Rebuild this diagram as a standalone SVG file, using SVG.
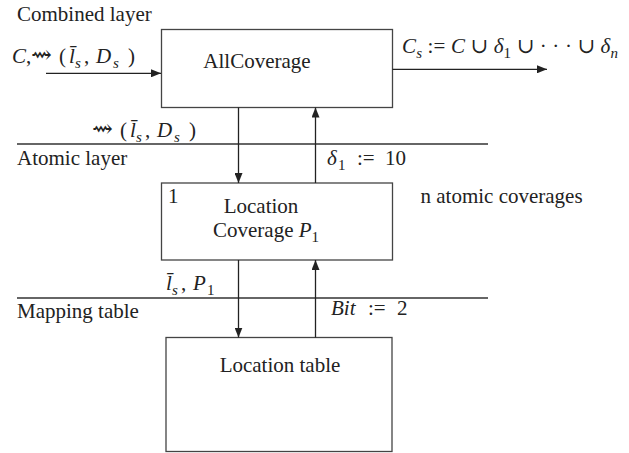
<svg xmlns="http://www.w3.org/2000/svg" width="629" height="453" viewBox="0 0 629 453" font-family="'Liberation Serif', 'Times New Roman', Times, 'DejaVu Serif', serif">
<defs>
<marker id="ah" viewBox="0 0 10 8" refX="10" refY="4" markerWidth="10" markerHeight="8" markerUnits="userSpaceOnUse" orient="auto">
<path d="M0,0 L10,4 L0,8 z" fill="#222"/>
</marker>
<style>
text{font-family:'Liberation Serif','Times New Roman',Times,'DejaVu Serif',serif;font-size:21px;fill:#222}
.m{font-style:italic}
.sub{font-size:15px}
.sq{font-size:25px}
.box{fill:#fff;stroke:#444;stroke-width:1.3}
.sep{stroke:#333;stroke-width:1.3}
.arr{stroke:#222;stroke-width:1.3;fill:none;marker-end:url(#ah)}
</style>
</defs>
<rect width="629" height="453" fill="#fff"/>
<g id="layers">
<line class="sep" x1="17" y1="144" x2="488" y2="144"/>
<line class="sep" x1="17" y1="298" x2="488" y2="298"/>
<text x="17" y="20.5">Combined layer</text>
<text x="17" y="165">Atomic layer</text>
<text x="17" y="318">Mapping table</text>
<text x="420.5" y="202.5">n atomic coverages</text>
</g>
<g id="allcoverage">
<rect class="box" x="161.5" y="29.5" width="231" height="78"/>
<text x="257" y="68" text-anchor="middle">AllCoverage</text>
</g>
<g id="locationcoverage">
<rect class="box" x="161.5" y="183" width="231" height="77"/>
<text x="168" y="202.5">1</text>
<text x="261" y="212.5" text-anchor="middle">Location</text>
<text x="213" y="237">Coverage <tspan class="m">P</tspan><tspan class="sub" dy="5">1</tspan></text>
</g>
<g id="locationtable">
<rect class="box" x="166" y="337.5" width="226" height="114"/>
<text x="280" y="371.5" text-anchor="middle">Location table</text>
</g>
<g id="connectors">
<line class="arr" x1="46" y1="73.3" x2="161" y2="73.3"/>
<line class="arr" x1="392.5" y1="69.3" x2="547" y2="69.3"/>
<line class="arr" x1="238.5" y1="107.5" x2="238.5" y2="183"/>
<line class="arr" x1="315.5" y1="183" x2="315.5" y2="107.5"/>
<line class="arr" x1="238.5" y1="260" x2="238.5" y2="337.5"/>
<line class="arr" x1="315.5" y1="337.5" x2="315.5" y2="260"/>
</g>
<g id="labels">
<text x="12" y="63"><tspan class="m">C</tspan><tspan x="26">,</tspan><tspan class="sq" x="31">⇝</tspan><tspan x="59">(</tspan><tspan class="m" x="69">l̄</tspan><tspan class="sub m" x="75" dy="5">s</tspan><tspan x="84" dy="-5">,</tspan><tspan class="m" x="96">D</tspan><tspan class="sub m" x="113" dy="5">s</tspan><tspan x="128" dy="-5">)</tspan></text>
<text x="402" y="53" textLength="216" lengthAdjust="spacing"><tspan class="m">C</tspan><tspan class="sub m" dy="5">s</tspan><tspan dy="-5"> := </tspan><tspan class="m">C</tspan> ∪ <tspan class="m">δ</tspan><tspan class="sub" dy="5">1</tspan><tspan dy="-5"> ∪ · · · ∪ </tspan><tspan class="m">δ</tspan><tspan class="sub m" dy="5">n</tspan></text>
<text x="92" y="137"><tspan class="sq">⇝</tspan><tspan x="120">(</tspan><tspan class="m" x="130">l̄</tspan><tspan class="sub m" x="136" dy="5">s</tspan><tspan x="145" dy="-5">,</tspan><tspan class="m" x="157">D</tspan><tspan class="sub m" x="174" dy="5">s</tspan><tspan x="189" dy="-5">)</tspan></text>
<text x="327" y="165"><tspan class="m">δ</tspan><tspan class="sub" x="338" dy="5">1</tspan><tspan x="357" dy="-5">:=</tspan><tspan x="385">10</tspan></text>
<text x="166" y="290"><tspan class="m">l̄</tspan><tspan class="sub m" x="172" dy="5">s</tspan><tspan x="181" dy="-5">,</tspan><tspan class="m" x="193">P</tspan><tspan class="sub" x="207" dy="5">1</tspan></text>
<text x="331" y="315"><tspan class="m">Bit</tspan><tspan x="368">:=</tspan><tspan x="397">2</tspan></text>
</g>
</svg>
